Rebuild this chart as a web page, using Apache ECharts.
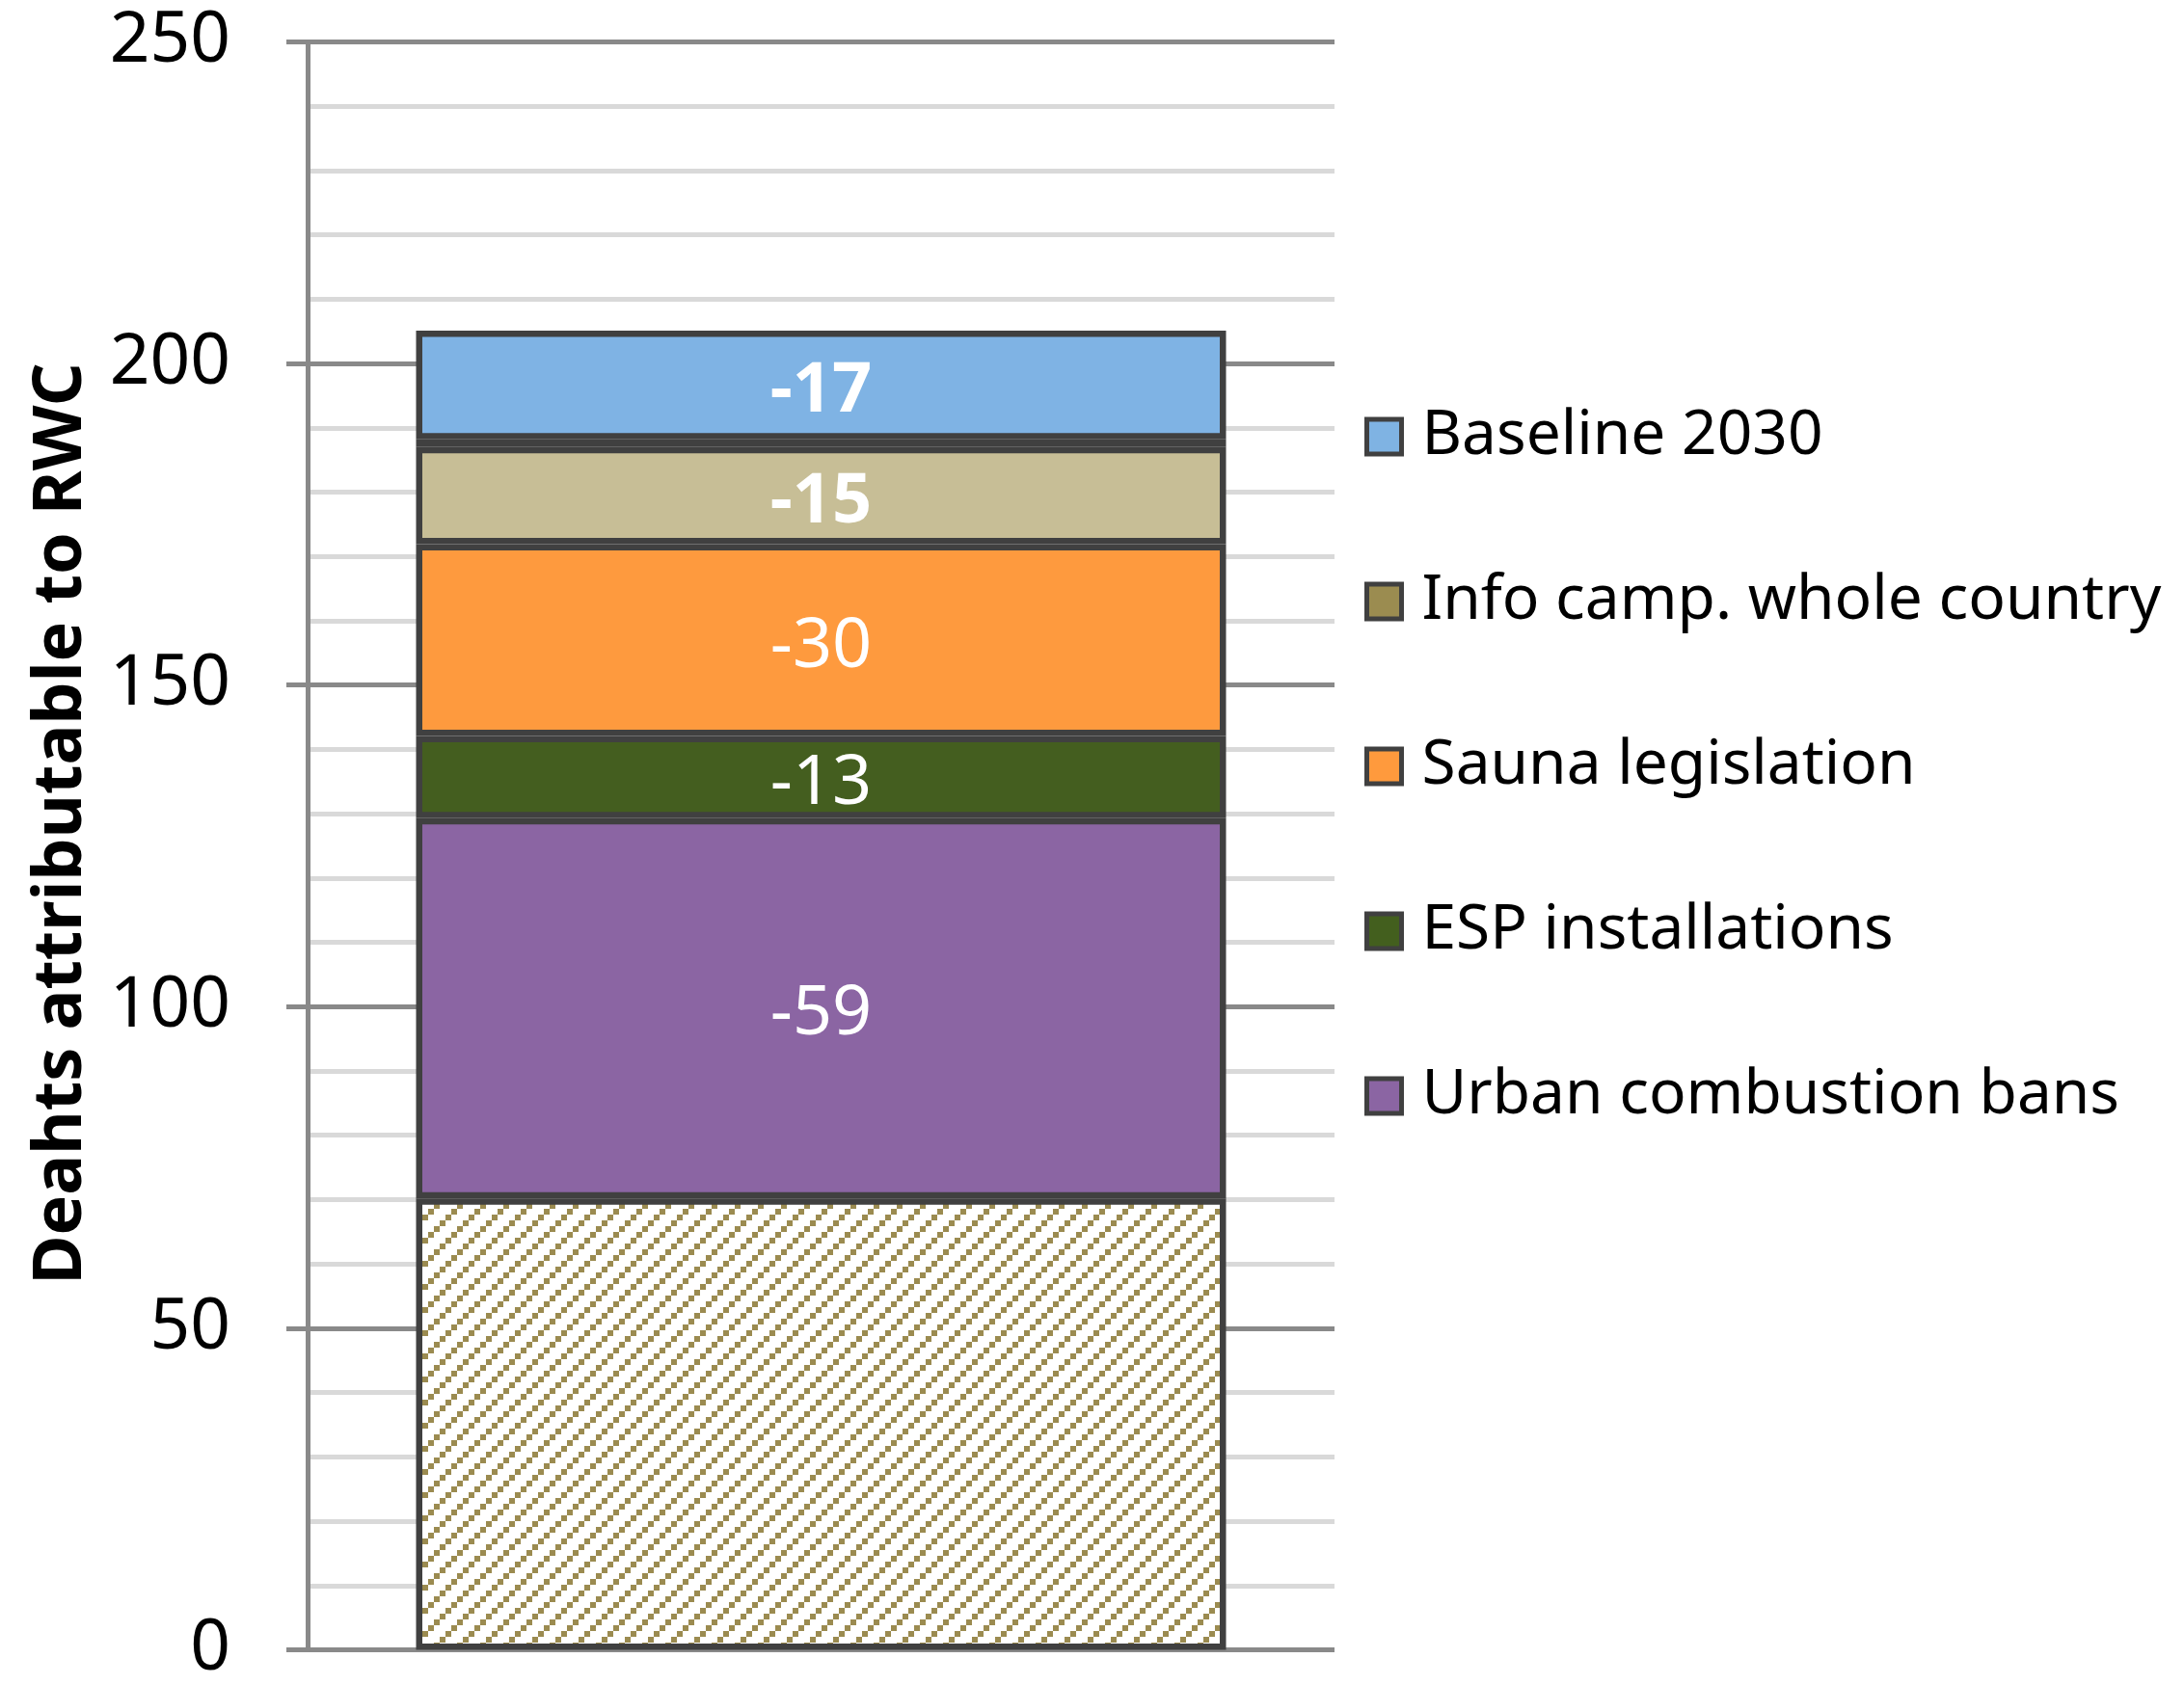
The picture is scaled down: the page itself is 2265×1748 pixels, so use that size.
<!DOCTYPE html>
<html>
<head>
<meta charset="utf-8">
<script src="https://cdn.jsdelivr.net/npm/echarts@6/dist/echarts.min.js"></script>
<style>
html,body{margin:0;padding:0;background:#fff;}
#chart{width:2265px;height:1748px;}
</style>
</head>
<body>
<div id="chart"></div>
<script>
// ---- data ----
const categories = ['2030'];
const remainingBase = [70.2];          // hatched remaining part
const urbanBans = [59.1];
const espInstall = [12.8];
const saunaLeg = [29.8];
const infoCamp = [15.1];
const separatorGap = [1.2];            // thick dark divider between segments
const baseline2030 = [16.9];
const yTicks = [0, 50, 100, 150, 200, 250];

const FONT = 'Noto Sans';
const BORDER = '#404040';

// hatch pattern for the base segment
const tile = document.createElement('canvas');
tile.width = 24; tile.height = 24;
const tctx = tile.getContext('2d');
tctx.fillStyle = '#ffffff';
tctx.fillRect(0, 0, 24, 24);
tctx.fillStyle = '#9b8b50';
for (let i = 0; i < 4; i++) {
  tctx.fillRect(i * 6, 18 - i * 6, 6, 6);
}

function seg(name, data, color, bold, showLabel) {
  return {
    name: name,
    type: 'bar',
    stack: 'total',
    data: data,
    barWidth: 840,
    itemStyle: { color: color, borderColor: BORDER, borderWidth: 6.5 },
    label: {
      show: showLabel,
      position: 'inside',
      offset: [0, 7],
      color: '#ffffff',
      fontFamily: FONT,
      fontSize: 72,
      fontWeight: bold ? 'bold' : 'normal',
      formatter: p => String(-Math.round(p.value))
    },
    emphasis: { disabled: true }
  };
}

const chart = echarts.init(document.getElementById('chart'));
chart.setOption({
  animation: false,
  backgroundColor: '#ffffff',
  grid: { left: 319, right: 881, top: 43.5, bottom: 31.4, containLabel: false },
  legend: {
    orient: 'vertical',
    left: 1410,
    top: 416,
    itemWidth: 36,
    itemHeight: 36,
    itemGap: 107,
    selectedMode: false,
    icon: 'rect',
    itemStyle: { borderColor: BORDER, borderWidth: 5 },
    textStyle: { fontFamily: FONT, fontSize: 64, color: '#000000', lineHeight: 36, padding: [0, 0, 0, 16] },
    data: [
      { name: 'Baseline 2030', itemStyle: { color: '#7fb3e3' } },
      { name: 'Info camp. whole country', itemStyle: { color: '#9b8c50' } },
      { name: 'Sauna legislation', itemStyle: { color: '#ff9a3d' } },
      { name: 'ESP installations', itemStyle: { color: '#435f1e' } },
      { name: 'Urban combustion bans', itemStyle: { color: '#8b65a3' } }
    ]
  },
  xAxis: {
    type: 'category',
    data: categories,
    axisLine: { show: false },
    axisTick: { show: false },
    axisLabel: { show: false },
    splitLine: { show: false }
  },
  yAxis: {
    type: 'value',
    min: yTicks[0],
    max: yTicks[yTicks.length - 1],
    interval: 50,
    name: 'Deahts attributable to RWC',
    nameLocation: 'middle',
    nameRotate: 90,
    nameGap: 220,
    nameTextStyle: { fontFamily: FONT, fontSize: 70, fontWeight: 'bold', color: '#000000', padding: [0, 0, 0, 46] },
    axisLine: { show: true, lineStyle: { color: '#898989', width: 5 } },
    axisTick: { show: true, length: 22, lineStyle: { color: '#898989', width: 5 } },
    axisLabel: { fontFamily: FONT, fontSize: 73, color: '#000000', margin: 80 },
    splitLine: { show: true, lineStyle: { color: '#898989', width: 5 } },
    minorTick: { show: false, splitNumber: 5 },
    minorSplitLine: { show: true, lineStyle: { color: '#d9d9d9', width: 5 } }
  },
  series: [
    {
      name: 'Remaining',
      type: 'bar',
      stack: 'total',
      data: remainingBase,
      barWidth: 840,
      itemStyle: { color: { image: tile, repeat: 'repeat' }, borderColor: BORDER, borderWidth: 6.5 },
      emphasis: { disabled: true }
    },
    seg('Urban combustion bans', urbanBans, '#8b65a3', false, true),
    seg('ESP installations', espInstall, '#445e1f', false, true),
    seg('Sauna legislation', saunaLeg, '#fe9a3e', false, true),
    seg('Info camp. whole country', infoCamp, '#c7be96', true, true),
    {
      name: 'gap',
      type: 'bar',
      stack: 'total',
      data: separatorGap,
      barWidth: 840,
      itemStyle: { color: BORDER, borderWidth: 0 },
      emphasis: { disabled: true }
    },
    seg('Baseline 2030', baseline2030, '#7fb3e4', true, true)
  ]
});
</script>
</body>
</html>
